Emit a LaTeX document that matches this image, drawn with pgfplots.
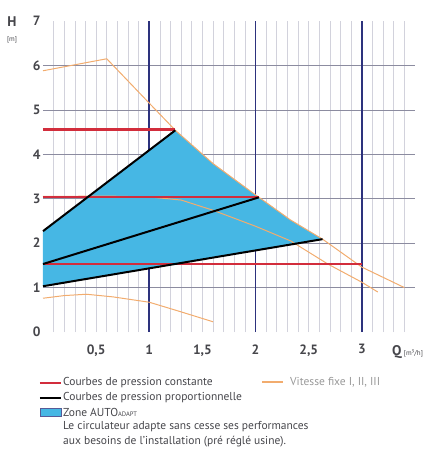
\documentclass[border=0pt]{standalone}
\usepackage{pgfplots}
\pgfplotsset{compat=1.18}
\usepackage{fontspec}
\setmainfont{PT Sans}
\definecolor{zoneblue}{RGB}{70,183,228}
\definecolor{cred}{RGB}{210,45,60}
\definecolor{corange}{RGB}{242,172,110}
\definecolor{navy}{RGB}{45,50,125}
\definecolor{minorg}{RGB}{210,210,220}
\definecolor{hgrid}{RGB}{140,140,160}
\definecolor{txt}{RGB}{70,70,75}
\begin{document}
\begin{tikzpicture}
\useasboundingbox (-43pt,-124pt) rectangle (384pt,332pt);
\begin{axis}[
  scale only axis, width=372pt, height=311pt,
  xmin=0, xmax=3.5, ymin=0, ymax=7,
  axis line style={draw=none},
  major tick length=0pt,
  xtick={0.5,1,1.5,2,2.5,3},
  xticklabels={0{,}5,1,1{,}5,2,2{,}5,3},
  ytick={0,1,2,3,4,5,6,7},
  tick label style={font=\bfseries\fontsize{13.5}{13.5}\selectfont, text=txt},
  xticklabel style={yshift=-9pt},
  yticklabel style={xshift=1pt},
  /pgf/number format/assume math mode=true,
  clip=false,
]
% grid
\pgfplotsinvokeforeach{1,...,34}{
  \draw[minorg, line width=0.7pt] (axis cs:#1/10,0) -- (axis cs:#1/10,7);
}
\pgfplotsinvokeforeach{1,...,6}{
  \draw[hgrid, line width=0.7pt] (axis cs:0,#1) -- (axis cs:3.5,#1);
}
\draw[navy, line width=1.8pt] (axis cs:1,0) -- (axis cs:1,7);
\draw[navy, line width=1.8pt] (axis cs:2,0) -- (axis cs:2,7);
\draw[navy, line width=1.8pt] (axis cs:3,0) -- (axis cs:3,7);
% AUTO ADAPT zone
\addplot[fill=zoneblue, draw=none] coordinates {
  (0,1.03) (0,2.27) (1.245,4.54) (1.6,3.79) (1.98,3.12) (2.33,2.52) (2.63,2.09) (0,1.03)};
% fixed speed curves
\addplot[corange, line width=1pt] coordinates {
  (0,5.88) (0.6,6.15) (1.0,5.15) (1.245,4.54) (1.6,3.79) (1.98,3.12) (2.33,2.52) (2.63,2.09) (3.0,1.46) (3.4,1.0)};
\addplot[corange, line width=1pt] coordinates {
  (0,3.05) (0.6,3.06) (1.0,3.04) (1.3,2.97) (1.6,2.74) (2.0,2.38) (2.33,2.05) (2.68,1.53) (3.0,1.12) (3.15,0.9)};
\addplot[corange, line width=1pt] coordinates {
  (0,0.76) (0.2,0.82) (0.41,0.85) (0.66,0.79) (1.0,0.67) (1.29,0.46) (1.6,0.23)};
% constant pressure
\addplot[cred, line width=2.2pt] coordinates {(0,4.56) (1.245,4.56)};
\addplot[cred, line width=2.2pt] coordinates {(0,3.03) (2.03,3.03)};
\addplot[cred, line width=2.2pt] coordinates {(0,1.53) (3.0,1.53)};
% proportional pressure
\addplot[black, line width=2pt] coordinates {(0,2.27) (1.245,4.54)};
\addplot[black, line width=2pt] coordinates {(0,1.53) (2.03,3.03)};
\addplot[black, line width=2pt] coordinates {(0,1.03) (2.63,2.09)};
\end{axis}
% axis titles
\node[text=txt, font=\bfseries\fontsize{14}{14}\selectfont] at (-31pt,310pt) {H};
\node[text=txt, font=\fontsize{7}{7}\selectfont] at (-31pt,292pt) {[m]};
\node[text=txt, anchor=west, inner sep=0pt] at (349pt,-20pt) {\bfseries\fontsize{14}{14}\selectfont Q\,\mdseries\fontsize{7}{7}\selectfont[m³/h]};
% legend
\draw[cred, line width=2.4pt] (-3pt,-51pt) -- (18pt,-51pt);
\node[anchor=west, inner sep=0pt, text=txt, font=\fontsize{11.5}{12}\selectfont] at (20pt,-51pt) {Courbes de pression constante};
\draw[corange, line width=2.4pt] (219pt,-50pt) -- (240pt,-50pt);
\node[anchor=west, inner sep=0pt, text=black!40, font=\fontsize{11.5}{12}\selectfont] at (247pt,-50pt) {Vitesse fixe I, II, III};
\draw[black, line width=2.4pt] (-3pt,-66pt) -- (18pt,-66pt);
\node[anchor=west, inner sep=0pt, text=txt, font=\fontsize{11.5}{12}\selectfont] at (20pt,-66pt) {Courbes de pression proportionnelle};
\draw[fill=zoneblue, draw=navy!80, line width=0.9pt] (-3pt,-84pt) rectangle (18pt,-76pt);
\node[anchor=west, inner sep=0pt, text=txt, font=\fontsize{11.5}{12}\selectfont] at (20pt,-80pt) {Zone AUTO{\fontsize{6.5}{6.5}\selectfont ADAPT}};
\node[anchor=west, inner sep=0pt, text=txt, font=\fontsize{11.5}{12}\selectfont] at (20pt,-95pt) {Le circulateur adapte sans cesse ses performances};
\node[anchor=west, inner sep=0pt, text=txt, font=\fontsize{11.5}{12}\selectfont] at (20pt,-110pt) {aux besoins de l'installation (pré réglé usine).};
\end{tikzpicture}
\end{document}
